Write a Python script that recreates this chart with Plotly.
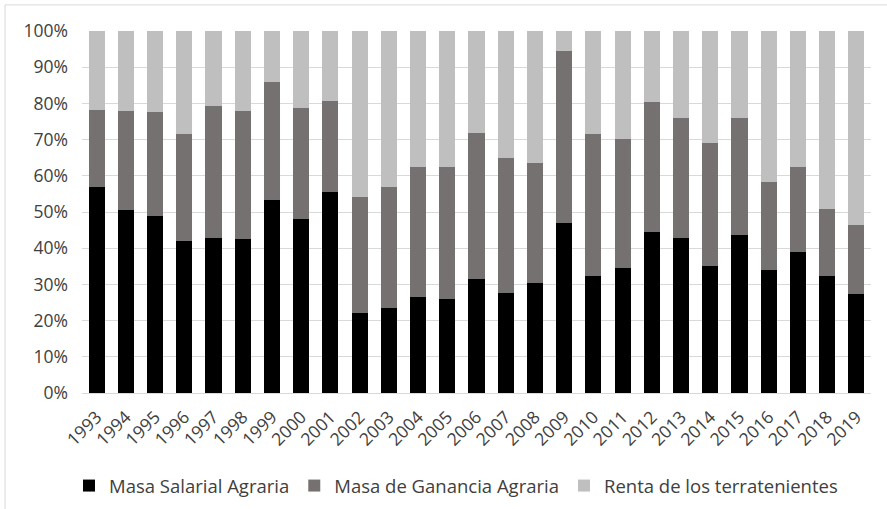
import plotly.graph_objects as go

years = [str(y) for y in range(1993, 2020)]

# % of total
masa_salarial = [56.8, 50.5, 48.8, 42.0, 42.8, 42.5, 53.3, 48.1, 55.6, 22.1,
                 23.5, 26.5, 25.9, 31.6, 27.7, 30.4, 47.0, 32.4, 34.6, 44.6,
                 42.8, 35.1, 43.7, 33.9, 38.9, 32.4, 27.3]
masa_ganancia = [21.3, 27.3, 28.7, 29.6, 36.5, 35.3, 32.5, 30.6, 25.2, 32.0,
                 33.3, 35.9, 36.5, 40.2, 37.1, 33.2, 47.5, 39.2, 35.5, 35.9,
                 33.3, 34.1, 32.4, 24.3, 23.5, 18.4, 19.1]
renta = [21.9, 22.2, 22.5, 28.4, 20.7, 22.2, 14.2, 21.3, 19.2, 45.9,
         43.2, 37.6, 37.6, 28.2, 35.2, 36.4, 5.5, 28.4, 29.9, 19.5,
         23.9, 30.8, 23.9, 41.8, 37.6, 49.2, 53.6]

y_ticks = list(range(0, 101, 10))
y_labels = [f"{v}%" for v in y_ticks]

font = "'Open Sans', sans-serif"
txt = "#404040"

fig = go.Figure()
fig.add_trace(go.Bar(x=years, y=masa_salarial, name="Masa Salarial Agraria",
                     marker=dict(color="#000000", line_width=0)))
fig.add_trace(go.Bar(x=years, y=masa_ganancia, name="Masa de Ganancia Agraria",
                     marker=dict(color="#767171", line_width=0)))
fig.add_trace(go.Bar(x=years, y=renta, name="Renta de los terratenientes",
                     marker=dict(color="#bfbfbf", line_width=0)))

fig.update_layout(
    width=887, height=509,
    barmode="stack", barnorm="percent", bargap=0.45,
    plot_bgcolor="white", paper_bgcolor="white",
    margin=dict(l=82, r=16, t=31, b=116, autoexpand=False),
    font=dict(family=font, size=17, color=txt),
    showlegend=True,
    legend=dict(orientation="h", x=0.474, xanchor="center", y=-0.257, yanchor="middle",
                font=dict(size=18.5, color=txt), traceorder="normal",
                itemwidth=30, bgcolor="rgba(0,0,0,0)"),
    xaxis=dict(tickangle=-45, showgrid=False, showline=True, linecolor="#d9d9d9",
               linewidth=1, ticks="", automargin=False, ticklabelstandoff=6,
               tickfont=dict(size=17.5, color=txt)),
    yaxis=dict(range=[0, 100], tickvals=y_ticks, ticktext=y_labels,
               showgrid=True, gridcolor="#d9d9d9", gridwidth=1, automargin=False,
               zeroline=False, ticks="", ticklabelstandoff=13,
               tickfont=dict(size=17.5, color=txt)),
    shapes=[dict(type="rect", xref="paper", yref="paper",
                 x0=-0.0976, x1=1.1, y0=-0.5, y1=1.072,
                 line=dict(color="#d9d9d9", width=1), layer="below")],
)

fig.write_html("out.html", config={"displayModeBar": False},
               post_script="document.body.style.margin='0';")
